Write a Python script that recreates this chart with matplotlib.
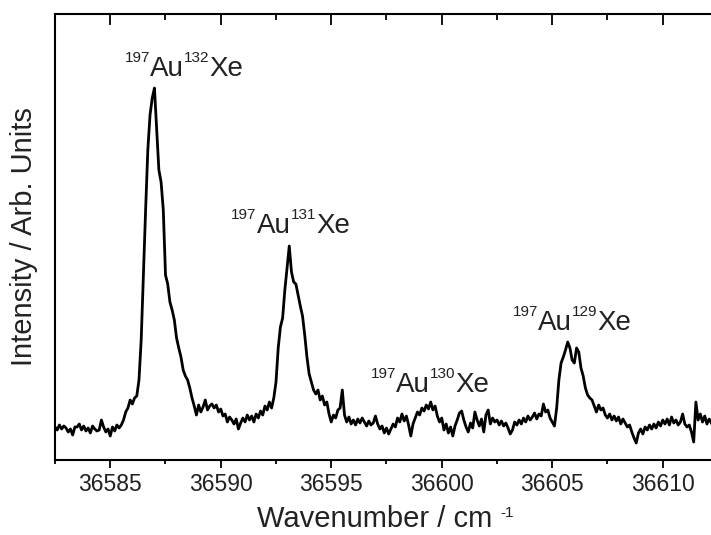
import matplotlib.pyplot as plt
import numpy as np
from matplotlib.ticker import MultipleLocator
from matplotlib.transforms import offset_copy, blended_transform_factory

plt.rcParams['font.family'] = ['Liberation Sans', 'DejaVu Sans']

TXT = '#222222'

# spectrum, one value every 0.1 cm-1 starting at 36582.5
WN_START = 36582.5
WN_STEP = 0.1
intensity = [
    33, 30, 35, 31, 34, 32, 28, 31, 25, 33,
    33, 36, 30, 34, 29, 32, 27, 34, 31, 29,
    30, 40, 33, 28, 31, 24, 33, 29, 35, 32,
    35, 40, 48, 52, 60, 56, 62, 64, 80, 120,
    185, 250, 310, 345, 362, 372, 330, 290, 278, 250,
    185, 176, 158, 150, 140, 122, 112, 103, 90, 84,
    80, 72, 62, 54, 45, 55, 48, 53, 60, 50,
    54, 56, 52, 55, 48, 51, 44, 46, 38, 43,
    40, 36, 41, 31, 37, 42, 38, 45, 40, 44,
    38, 46, 42, 49, 45, 54, 50, 58, 52, 62,
    78, 112, 133, 142, 170, 192, 214, 188, 178, 176,
    165, 154, 144, 125, 103, 86, 78, 70, 66, 70,
    60, 64, 55, 58, 46, 38, 45, 42, 50, 52,
    70, 45, 38, 43, 36, 40, 35, 41, 37, 42,
    38, 34, 39, 35, 37, 44, 36, 31, 34, 27,
    32, 26, 31, 36, 33, 42, 38, 46, 39, 44,
    35, 24, 36, 42, 48, 45, 52, 49, 55, 51,
    58, 50, 54, 44, 38, 42, 30, 36, 27, 33,
    24, 34, 40, 47, 49, 40, 33, 28, 37, 32,
    48, 40, 34, 41, 28, 45, 50, 36, 42, 38,
    40, 35, 39, 34, 37, 32, 26, 30, 38, 35,
    40, 36, 42, 38, 44, 40, 43, 47, 41, 46,
    44, 56, 48, 50, 42, 38, 34, 52, 80, 97,
    103, 110, 118, 112, 100, 97, 112, 108, 92, 84,
    72, 65, 62, 60, 54, 48, 55, 50, 52, 45,
    42, 46, 40, 44, 39, 43, 36, 41, 37, 33,
    35, 28, 22, 17, 27, 31, 26, 33, 30, 35,
    31, 36, 32, 38, 34, 40, 36, 41, 35, 43,
    37, 40, 35, 38, 46, 36, 33, 35, 28, 18,
    58, 40, 46, 38, 44, 36, 41, 37,
]
wavenumber = WN_START + WN_STEP * np.arange(len(intensity))

isotopes = ['132', '131', '130', '129']
label_x = [36588.34, 36593.16, 36599.47, 36605.9]
label_y = [384, 227, 68, 130]

fig = plt.figure(figsize=(7.11, 5.35), dpi=100)
ax = fig.add_axes([55 / 711, 75 / 535, 660 / 711, 446.5 / 535])
renderer = fig.canvas.get_renderer()


def piece_text(x, y, pieces, transform):
    # draw text made of pieces (text, size, rise in px), centred on x
    objs, widths = [], []
    for s, size, rise in pieces:
        t = ax.text(x, y, s, fontsize=size, transform=transform,
                    ha='left', va='baseline', color=TXT)
        widths.append(t.get_window_extent(renderer).width)
        objs.append(t)
    off = -sum(widths) / 2
    for t, w, (s, size, rise) in zip(objs, widths, pieces):
        t.set_transform(offset_copy(transform, fig=fig, x=off, y=rise, units='dots'))
        off += w


ax.plot(wavenumber, intensity, color='k', lw=2.0)

ax.set_xlim(WN_START, WN_START + 660 / 22.1)
ax.set_ylim(0, 446.5)

ax.xaxis.set_major_locator(MultipleLocator(5))
ax.xaxis.set_minor_locator(MultipleLocator(2.5))
ax.tick_params(axis='x', which='major', direction='out', length=5.5, width=1.3,
               labelsize=16.5, pad=4, labelcolor=TXT)
ax.tick_params(axis='x', which='minor', direction='out', length=3, width=1.3)
ax.set_yticks([])
for s in ax.spines.values():
    s.set_linewidth(1.5)

# mirrored ticks on top, pointing inwards
top = ax.twiny()
top.set_xlim(ax.get_xlim())
top.xaxis.set_major_locator(MultipleLocator(5))
top.xaxis.set_minor_locator(MultipleLocator(2.5))
top.tick_params(axis='x', which='major', direction='in', length=8, width=1.3, labeltop=False)
top.tick_params(axis='x', which='minor', direction='in', length=4, width=1.3)
for s in top.spines.values():
    s.set_visible(False)

ax.set_ylabel('Intensity / Arb. Units', fontsize=21, color=TXT, labelpad=12)

# x label with raised -1
xl_trans = blended_transform_factory(ax.transAxes, fig.transFigure)
piece_text(0.5, 8 / 535, [('Wavenumber / cm ', 21, 0), ('-1', 11, 10)], xl_trans)

for iso, x, y in zip(isotopes, label_x, label_y):
    piece_text(x, y, [('197', 11, 14), ('Au', 20, 0), (iso, 11, 14), ('Xe', 20, 0)],
               ax.transData)

plt.savefig('out.png', dpi=100)
